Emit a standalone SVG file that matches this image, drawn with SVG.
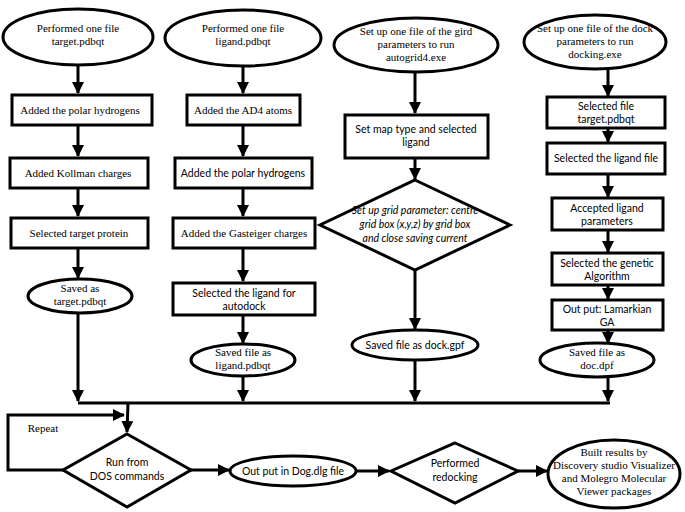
<svg xmlns="http://www.w3.org/2000/svg" width="685" height="512" viewBox="0 0 685 512">
<style>
.s{fill:#fff;stroke:#000;stroke-width:3}
.c{fill:none;stroke:#000;stroke-width:3}
.t{font-family:"Liberation Serif","Times New Roman",serif;font-size:11px;text-anchor:middle;fill:#000}
.a{font-family:Lato,"Liberation Sans",sans-serif;font-size:10.5px;text-anchor:middle;fill:#000}
.i{font-style:italic}
</style>
<defs>
<marker id="ah" markerUnits="userSpaceOnUse" markerWidth="12" markerHeight="12" refX="11" refY="6" orient="auto">
<path d="M0,0 L12,6 L0,12 Z" fill="#000"/>
</marker>
</defs>
<g id="connectors">
<line class="c" x1="78" y1="65" x2="78" y2="93" marker-end="url(#ah)"/>
<line class="c" x1="78" y1="125" x2="78" y2="156" marker-end="url(#ah)"/>
<line class="c" x1="78" y1="188" x2="78" y2="216" marker-end="url(#ah)"/>
<line class="c" x1="78" y1="248" x2="78" y2="278" marker-end="url(#ah)"/>
<line class="c" x1="78" y1="313" x2="78" y2="401" marker-end="url(#ah)"/>
<line class="c" x1="243" y1="66" x2="243" y2="93" marker-end="url(#ah)"/>
<line class="c" x1="243" y1="125" x2="243" y2="156" marker-end="url(#ah)"/>
<line class="c" x1="243" y1="188" x2="243" y2="216" marker-end="url(#ah)"/>
<line class="c" x1="243" y1="248" x2="243" y2="281" marker-end="url(#ah)"/>
<line class="c" x1="243" y1="315" x2="243" y2="343" marker-end="url(#ah)"/>
<line class="c" x1="243" y1="376" x2="243" y2="401" marker-end="url(#ah)"/>
<line class="c" x1="415" y1="72" x2="415" y2="113" marker-end="url(#ah)"/>
<line class="c" x1="415" y1="158" x2="415" y2="179" marker-end="url(#ah)"/>
<line class="c" x1="415" y1="270" x2="415" y2="329" marker-end="url(#ah)"/>
<line class="c" x1="415" y1="360" x2="415" y2="401" marker-end="url(#ah)"/>
<line class="c" x1="608" y1="69" x2="608" y2="96" marker-end="url(#ah)"/>
<line class="c" x1="608" y1="128" x2="608" y2="142" marker-end="url(#ah)"/>
<line class="c" x1="608" y1="174" x2="608" y2="197" marker-end="url(#ah)"/>
<line class="c" x1="608" y1="230" x2="608" y2="252" marker-end="url(#ah)"/>
<line class="c" x1="608" y1="285" x2="608" y2="299" marker-end="url(#ah)"/>
<line class="c" x1="608" y1="330" x2="608" y2="343" marker-end="url(#ah)"/>
<line class="c" x1="608" y1="376" x2="608" y2="401" marker-end="url(#ah)"/>
<line class="c" x1="78" y1="403" x2="610" y2="403"/>
<line class="c" x1="128" y1="403" x2="127" y2="432" marker-end="url(#ah)"/>
<polyline class="c" points="63,470 8,470 8,415 124,415" marker-end="url(#ah)"/>
<line class="c" x1="191" y1="470" x2="229" y2="470" marker-end="url(#ah)"/>
<line class="c" x1="357" y1="471" x2="389" y2="471" marker-end="url(#ah)"/>
<line class="c" x1="518" y1="471" x2="547" y2="471" marker-end="url(#ah)"/>
<text class="t" x="43" y="432">Repeat</text>
</g>
<g id="n1"><ellipse class="s" cx="78" cy="37" rx="75" ry="28"/><text class="t" x="78" y="32">Performed one file</text><text class="t" x="78" y="45">target.pdbqt</text></g>
<g id="n2"><rect class="s" x="12" y="95" width="140" height="30"/><text class="t" x="80" y="114">Added the polar hydrogens</text></g>
<g id="n3"><rect class="s" x="10" y="158" width="138" height="30"/><text class="t" x="78" y="177">Added  Kollman charges</text></g>
<g id="n4"><rect class="s" x="11" y="218" width="137" height="30"/><text class="t" x="79" y="237">Selected target protein</text></g>
<g id="n5"><ellipse class="s" cx="80" cy="296" rx="52" ry="17"/><text class="t" x="80" y="292">Saved as</text><text class="t" x="80" y="305">target.pdbqt</text></g>
<g id="n6"><ellipse class="s" cx="243" cy="38" rx="78" ry="28"/><text class="t" x="243" y="32">Performed one file</text><text class="t" x="243" y="45">ligand.pdbqt</text></g>
<g id="n7"><rect class="s" x="187" y="95" width="113" height="30"/><text class="t" x="243" y="114">Added  the AD4 atoms</text></g>
<g id="n8"><rect class="s" x="175" y="158" width="137" height="30"/><text class="a" x="243" y="177">Added the polar hydrogens</text></g>
<g id="n9"><rect class="s" x="173" y="218" width="142" height="30"/><text class="t" x="244" y="237">Added  the Gasteiger charges</text></g>
<g id="n10"><rect class="s" x="173" y="283" width="142" height="32"/><text class="a" x="244" y="297">Selected the ligand for</text><text class="a" x="244" y="310">autodock</text></g>
<g id="n11"><ellipse class="s" cx="243" cy="360" rx="52" ry="16"/><text class="t" x="243" y="356">Saved file as</text><text class="t" x="243" y="369">ligand.pdbqt</text></g>
<g id="n12"><ellipse class="s" cx="416" cy="45" rx="82" ry="27"/><text class="t" x="416" y="35">Set up  one file of the gird</text><text class="t" x="416" y="48">parameters to run</text><text class="t" x="416" y="61">autogrid4.exe</text></g>
<g id="n13"><rect class="s" x="345" y="115" width="143" height="43"/><text class="a" x="416" y="133">Set map type and selected</text><text class="a" x="416" y="146">ligand</text></g>
<g id="n14"><polygon class="s" points="415,180 510,225 415,270 320,225"/><text class="a i" x="415" y="214">Set up grid parameter: centre</text><text class="a i" x="415" y="228">grid box (x,y,z) by grid box</text><text class="a i" x="415" y="242">and close saving current</text></g>
<g id="n15"><ellipse class="s" cx="415" cy="345" rx="63" ry="15"/><text class="a" x="415" y="349">Saved file as dock.gpf</text></g>
<g id="n16"><ellipse class="s" cx="595" cy="42" rx="71" ry="27"/><text class="t" x="595" y="32">Set up one  file of  the dock</text><text class="t" x="595" y="45">parameters to run</text><text class="t" x="595" y="58">docking.exe</text></g>
<g id="n17"><rect class="s" x="547" y="97" width="118" height="31"/><text class="a" x="606" y="110">Selected file</text><text class="a" x="606" y="123">target.pdbqt</text></g>
<g id="n18"><rect class="s" x="547" y="143" width="118" height="31"/><text class="a" x="606" y="162">Selected the ligand file</text></g>
<g id="n19"><rect class="s" x="552" y="198" width="111" height="32"/><text class="a" x="607" y="212">Accepted ligand</text><text class="a" x="607" y="225">parameters</text></g>
<g id="n20"><rect class="s" x="552" y="253" width="111" height="32"/><text class="a" x="607" y="267">Selected the genetic</text><text class="a" x="607" y="280">Algorithm</text></g>
<g id="n21"><rect class="s" x="552" y="300" width="111" height="30"/><text class="a" x="607" y="313">Out put: Lamarkian</text><text class="a" x="607" y="326">GA</text></g>
<g id="n22"><ellipse class="s" cx="597" cy="360" rx="57" ry="17"/><text class="t" x="597" y="356">Saved file as</text><text class="t" x="597" y="369">doc.dpf</text></g>
<g id="n23"><polygon class="s" points="127,434 191,470 127,507 63,470"/><text class="a" x="127" y="466">Run  from</text><text class="a" x="127" y="480">DOS commands</text></g>
<g id="n24"><ellipse class="s" cx="293" cy="471" rx="63" ry="15"/><text class="a" x="293" y="475">Out put in Dog.dlg file</text></g>
<g id="n25"><polygon class="s" points="455,443 518,471 455,503 391,471"/><text class="a" x="455" y="467">Performed</text><text class="a" x="455" y="481">redocking</text></g>
<g id="n26"><ellipse class="s" cx="614" cy="474" rx="66" ry="34"/><text class="t" x="614" y="456">Built   results by</text><text class="t" x="614" y="469">Discovery studio Visualizer</text><text class="t" x="614" y="482">and Molegro Molecular</text><text class="t" x="614" y="495">Viewer packages</text></g>
</svg>
